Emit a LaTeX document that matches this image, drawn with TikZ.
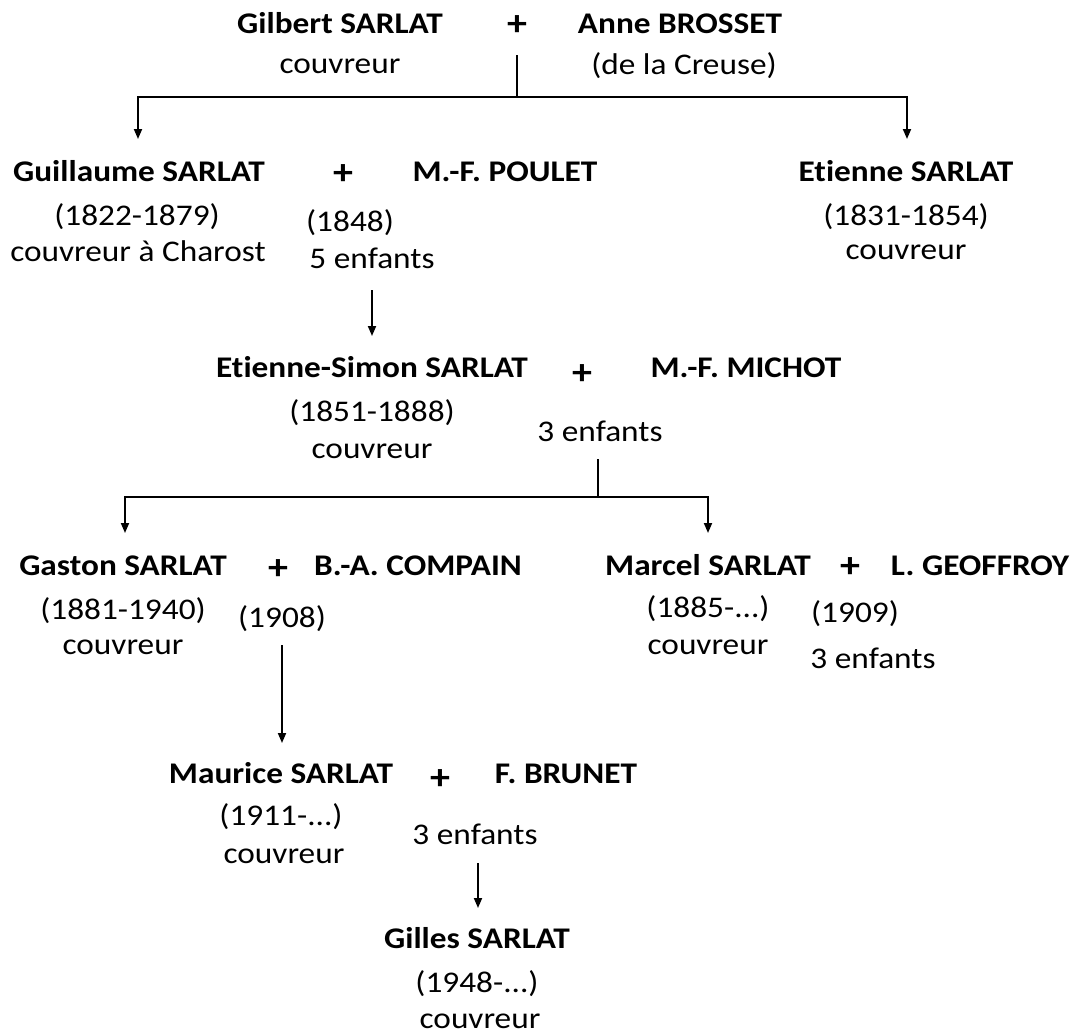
\documentclass[tikz,border=0pt]{standalone}
\usepackage{fontspec}
\setmainfont{Carlito}[FakeStretch=1.11,Ligatures=NoCommon]
\usetikzlibrary{arrows.meta}
\begin{document}
\begin{tikzpicture}[x=1pt,y=-1pt,
  person/.style={font=\bfseries\fontsize{30}{36}\selectfont, anchor=base, inner sep=0pt},
  info/.style={font=\fontsize{30}{36}\selectfont, anchor=base, inner sep=0pt},
  plus/.style={font=\bfseries\fontsize{36}{40}\selectfont, anchor=base, inner sep=0pt},
  link/.style={line width=2.2pt},
  arr/.style={line width=1.8pt,-{Triangle[length=10pt,width=8pt]}}]
\useasboundingbox (0,0) rectangle (1073,1034);
% Generation 1
\node[person] (gilbert) at (340,33) {Gilbert SARLAT};
\node[plus] (plus1) at (517,35) {+};
\node[person] (anne) at (680,33) {Anne BROSSET};
\node[info] (gilbertjob) at (340,73) {couvreur};
\node[info] (anneorig) at (684,74) {(de la Creuse)};
% Generation 2
\node[person] (guillaume) at (139,181) {Guillaume SARLAT};
\node[plus] (plus2) at (343,184) {+};
\node[person] (poulet) at (505,181) {M.-F. POULET};
\node[info] (guillaumedates) at (137,225) {(1822-1879)};
\node[info] (guillaumejob) at (138,261) {couvreur à Charost};
\node[info] (mar1) at (350,231) {(1848)};
\node[info] (kids1) at (372,268) {5 enfants};
\node[person] (etienne) at (906,181) {Etienne SARLAT};
\node[info] (etiennedates) at (906,225) {(1831-1854)};
\node[info] (etiennejob) at (906,259) {couvreur};
% Generation 3
\node[person] (es) at (372,377) {Etienne-Simon SARLAT};
\node[plus] (plus3) at (582,384) {+};
\node[person] (michot) at (746,377) {M.-F. MICHOT};
\node[info] (esdates) at (372,421) {(1851-1888)};
\node[info] (esjob) at (372,458) {couvreur};
\node[info] (kids2) at (600,441) {3 enfants};
% Generation 4
\node[person] (gaston) at (123,575) {Gaston SARLAT};
\node[plus] (plus4) at (278,579) {+};
\node[person] (compain) at (418,575) {B.-A. COMPAIN};
\node[info] (gastondates) at (123,619) {(1881-1940)};
\node[info] (gastonjob) at (123,654) {couvreur};
\node[info] (mar2) at (282,627) {(1908)};
\node[person] (marcel) at (708,575) {Marcel SARLAT};
\node[plus] (plus5) at (850,577) {+};
\node[person] (geoffroy) at (980,575) {L. GEOFFROY};
\node[info] (marceldates) at (708,617) {(1885-...)};
\node[info] (marceljob) at (708,654) {couvreur};
\node[info] (mar3) at (855,622) {(1909)};
\node[info] (kids3) at (873,668) {3 enfants};
% Generation 5
\node[person] (maurice) at (281,783) {Maurice SARLAT};
\node[plus] (plus6) at (440,789) {+};
\node[person] (brunet) at (566,783) {F. BRUNET};
\node[info] (mauricedates) at (281,825) {(1911-...)};
\node[info] (mauricejob) at (284,863) {couvreur};
\node[info] (kids4) at (475,844) {3 enfants};
% Generation 6
\node[person] (gilles) at (477,948) {Gilles SARLAT};
\node[info] (gillesdates) at (477,992) {(1948-...)};
\node[info] (gillesjob) at (480,1028) {couvreur};
% Connector points
\coordinate (s1) at (517,55);
\coordinate (f1) at (517,97);
\coordinate (t1) at (138,139);
\coordinate (t2) at (907,139);
\coordinate (s2) at (372,290);
\coordinate (t3) at (372,336);
\coordinate (s3) at (598,459);
\coordinate (f3) at (598,497);
\coordinate (t4) at (125,533);
\coordinate (t5) at (708,533);
\coordinate (s4) at (282,645);
\coordinate (t6) at (282,743);
\coordinate (s5) at (478,863);
\coordinate (t7) at (478,908);
% Connectors
\draw[link] (s1) -- (f1);
\draw[arr] (f1) -| (t1);
\draw[arr] (f1) -| (t2);
\draw[arr] (s2) -- (t3);
\draw[link] (s3) -- (f3);
\draw[arr] (f3) -| (t4);
\draw[arr] (f3) -| (t5);
\draw[arr] (s4) -- (t6);
\draw[arr] (s5) -- (t7);
\end{tikzpicture}
\end{document}
